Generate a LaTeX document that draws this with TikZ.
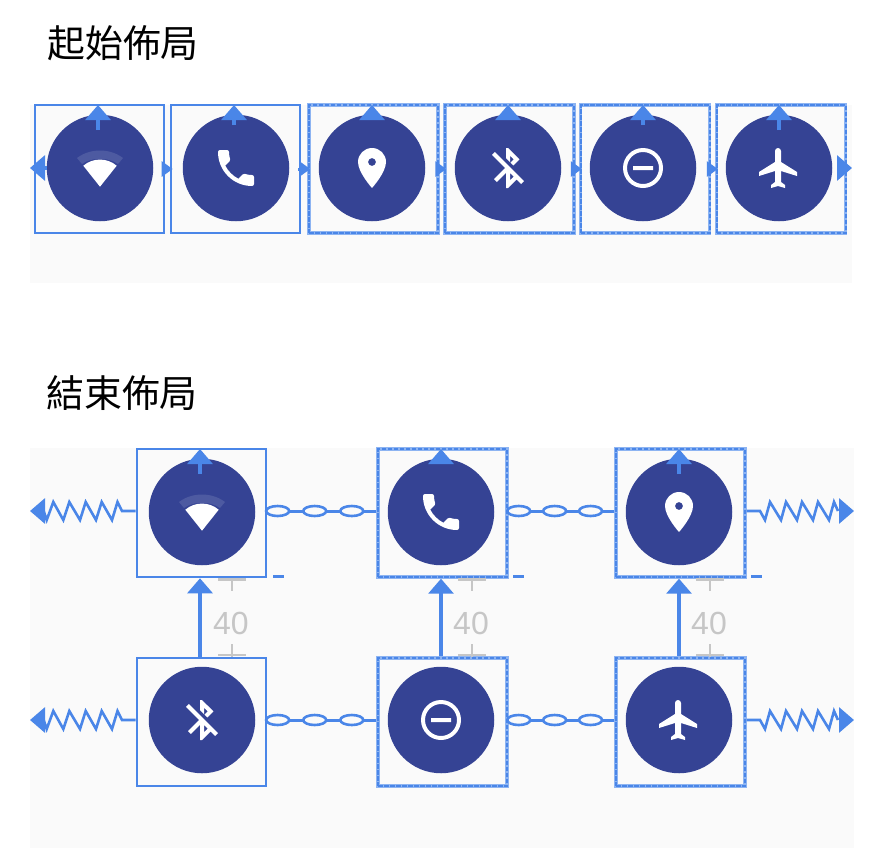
\documentclass[tikz,border=0pt]{standalone}
\usepackage{fontspec}
\setmainfont{Liberation Sans}
\newfontfamily\cjkfont{Noto Sans CJK TC}
\usetikzlibrary{arrows.meta,shapes.geometric,svg.path,calc}
\definecolor{bluel}{HTML}{4A86E8}
\definecolor{bluelite}{HTML}{8DB4F2}
\definecolor{disc}{HTML}{354394}
\definecolor{band}{HTML}{4D5AA1}
\definecolor{panel}{HTML}{FAFAFA}
\definecolor{dimgrey}{HTML}{C6C6C6}
\tikzset{
  boxa/.style={draw=bluel,line width=2.6pt,minimum width=129pt,minimum height=128pt,inner sep=0pt},
  boxb/.style={draw=bluelite,line width=3.4pt,minimum width=129pt,minimum height=128pt,inner sep=0pt,
    postaction={draw=bluel,line width=2pt,dash pattern=on 4.5pt off 1.5pt}},
  disk/.style={circle,fill=disc,minimum size=106.5pt,inner sep=0pt},
  conn/.style={draw=bluel,line width=3.2pt,-{Triangle[length=15pt,width=25pt,fill=bluel]}},
  tiny/.style={draw=bluel,line width=3pt,-{Triangle[length=11pt,width=15pt,fill=bluel]}},
  bar/.style={draw=bluel,line width=3pt},
  wire/.style={draw=bluel,line width=2.6pt,line join=miter},
  linkring/.style={ellipse,draw=bluel,fill=panel,line width=2.6pt,minimum width=23pt,minimum height=10pt,inner sep=0pt},
  dimline/.style={draw=dimgrey,line width=2.6pt},
  dimtext/.style={text=dimgrey,font=\fontsize{32}{32}\selectfont,inner sep=0pt},
  title/.style={font=\cjkfont\fontsize{37.9}{37.9}\selectfont,inner sep=0pt,anchor=west},
  icon/.style={fill=white,even odd rule,draw=none},
  iconframe/.style={shift={(#1)},xscale=2,yscale=-2,shift={(-12pt,-12pt)}},
}
\newcommand{\iconwifi}[1]{%
  \fill[band,shift={(#1)}] (-23,-10) .. controls (-10,-20) and (10,-20) .. (23,-10) -- (18,-4) .. controls (8,-11) and (-8,-11) .. (-18,-4) -- cycle;
  \fill[white,shift={(#1)}] (-16.7,-2.3) .. controls (-7,-10.5) and (7,-10.5) .. (16.7,-2.3) -- (0,18.7) -- cycle;}
\newcommand{\iconphone}[1]{\begin{scope}[iconframe={#1}]\path[icon] svg "M6.62 10.79c1.44 2.83 3.76 5.14 6.59 6.59l2.2-2.2c.27-.27.67-.36 1.02-.24 1.12.37 2.33.57 3.57.57.55 0 1 .45 1 1V20c0 .55-.45 1-1 1-9.39 0-17-7.61-17-17 0-.55.45-1 1-1h3.5c.55 0 1 .45 1 1 0 1.25.2 2.45.57 3.57.11.35.03.74-.25 1.02l-2.2 2.2z";\end{scope}}
\newcommand{\iconpin}[1]{\begin{scope}[iconframe={#1}]\path[icon] svg "M12 2C8.13 2 5 5.13 5 9c0 5.25 7 13 7 13s7-7.75 7-13c0-3.87-3.13-7-7-7zM12 11c-1.1 0-2-.9-2-2s.9-2 2-2 2 .9 2 2-.9 2-2 2z";\end{scope}}
\newcommand{\iconbt}[1]{\begin{scope}[iconframe={#1}]\path[icon] svg "M13 5.83l1.88 1.88-1.6 1.6 1.41 1.41 3.02-3.02L12 2h-1v5.03l2 2v-3.2zM5.41 4L4 5.41 10.59 12 5 17.59 6.41 19 11 14.41V22h1l4.29-4.29 2.3 2.29L20 18.59 5.41 4zM13 18.17v-3.76l1.88 1.88L13 18.17z";\end{scope}}
\newcommand{\iconminus}[1]{\begin{scope}[iconframe={#1}]\path[icon] svg "M7 11v2h10v-2H7zM12 2C6.48 2 2 6.48 2 12s4.48 10 10 10 10-4.48 10-10S17.52 2 12 2zm0 18c-4.41 0-8-3.59-8-8s3.59-8 8-8 8 3.59 8 8-3.59 8-8 8z";\end{scope}}
\newcommand{\iconplane}[1]{\begin{scope}[iconframe={#1}]\path[icon] svg "M21 16v-2l-8-5V3.5c0-.83-.67-1.5-1.5-1.5S10 2.67 10 3.5V9l-8 5v2l8-2.5V19l-2 1.5V22l3.5-1 3.5 1v-1.5L13 19v-5.5l8 2.5z";\end{scope}}
\begin{document}
\begin{tikzpicture}[x=1pt,y=-1pt]
\useasboundingbox (0,0) rectangle (886,860);
\fill[white] (0,0) rectangle (886,860);
\fill[panel] (30,105) rectangle (852,283);
\fill[panel] (30,448) rectangle (854,848);
\node[title] (t1) at (47,43) {起始佈局};
\node[title] (t2) at (46,393) {結束佈局};
% start layout
\foreach \n/\x/\s in {1/99.5/boxa,2/235.5/boxa,3/373.5/boxb,4/509.5/boxb,5/645/boxb,6/781/boxb}{
  \node[\s] (s\n) at (\x,169) {};
}
\foreach \n/\x in {1/100,2/236,3/372,4/508,5/643,6/779}{
  \node[disk] (sd\n) at (\x,168) {};
}
\iconwifi{100,168}
\iconphone{236,168}
\iconpin{372,168}
\iconbt{508,168}
\iconminus{643,168}
\iconplane{779,168}
\foreach \n/\x/\e in {1/98/130,2/234/125,3/372/119,4/508/119,5/643/125,6/779/130}{
  \coordinate (sa\n) at (\x,\e);
  \draw[conn] (sa\n) -- (\x,105);
}
\coordinate (sl) at (47,168);
\draw[conn] (sl) -- (30,168);
\coordinate (sr) at (837,168);
\draw[conn] (sr) -- (852,168);
\foreach \a/\b in {1/2,2/3,3/4,4/5,5/6}{
  \draw[tiny] ($(s\a.east)+(-3,0)$) -- ($(s\b.west)+(3,0)$);
}
% end layout
\foreach \n/\x/\y/\s in {1/201.5/513/boxa,2/442.5/513/boxb,3/680.5/513/boxb,4/201.5/722/boxa,5/442.5/722/boxb,6/680.5/722/boxb}{
  \node[\s] (e\n) at (\x,\y) {};
}
\foreach \n/\x/\y in {1/202/512,2/441/512,3/679/512,4/202/720,5/441/720,6/679/720}{
  \node[disk] (ed\n) at (\x,\y) {};
}
\iconwifi{202,512}
\iconphone{441,512}
\iconpin{679,512}
\iconbt{202,720}
\iconminus{441,720}
\iconplane{679,720}
\foreach \n/\x/\e in {1/200/474,2/441/462,3/679/474}{
  \coordinate (ea\n) at (\x,\e);
  \draw[conn] (ea\n) -- (\x,449);
}
% the 40 dimension, under the vertical links
\foreach \n/\x in {1/232,2/472,3/710}{
  \draw[dimline] (\x-14,579.5) -- (\x+14,579.5);
  \draw[dimline] (\x,578) -- (\x,591);
  \draw[dimline] (\x-14,655) -- (\x+14,655);
  \draw[dimline] (\x,644) -- (\x,657);
  \node[dimtext] (dim\n) at (\x-1,623) {40};
  \draw[bar] (\x+41,576.5) -- (\x+52,576.5);
}
\foreach \lo/\up/\x in {4/1/200,5/2/441,6/3/679}{
  \draw[conn] (\x,0 |- e\lo.north) -- (\x,0 |- e\up.south);
}
% chains
\foreach \a/\b in {1/2,2/3,4/5,5/6}{
  \draw[bar] ([yshift=2pt]e\a.east) -- ([yshift=2pt]e\b.west)
    node[linkring,pos=.095] (c\a a) {}
    node[linkring,pos=.435] (c\a b) {}
    node[linkring,pos=.775] (c\a c) {};
}
% springs
\foreach \n/\y in {1/511,4/720}{
  \coordinate (el\n) at (30,\y);
  \draw[wire] (e\n.west |- 0,\y) -- (122,\y) -- (117.5,\y-9) -- (112,\y+9) -- (101.7,\y-9) -- (96,\y+9) -- (85.7,\y-9) -- (80,\y+9) -- (69.3,\y-9) -- (63.3,\y+9) -- (53.3,\y-9) -- (46.7,\y+9) -- (43,\y-2);
  \draw[conn] (45,\y) -- (el\n);
}
\foreach \n/\y in {3/511,6/720}{
  \coordinate (er\n) at (854,\y);
  \draw[wire] (e\n.east |- 0,\y) -- (760,\y) -- (765,\y+9) -- (770,\y-9) -- (781,\y+9) -- (786,\y-9) -- (797,\y+9) -- (802,\y-9) -- (813,\y+9) -- (818,\y-9) -- (829,\y+9) -- (834,\y-9) -- (838,\y);
  \draw[conn] (839,\y) -- (er\n);
}
\end{tikzpicture}
\end{document}
